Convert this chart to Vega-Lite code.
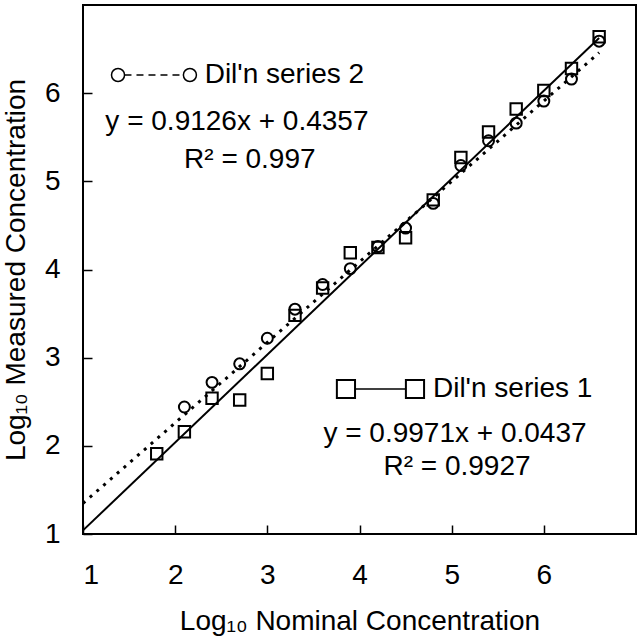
{
  "$schema": "https://vega.github.io/schema/vega-lite/v6.json",
  "autosize": "none",
  "width": 553,
  "height": 529,
  "padding": {"left": 83, "top": 5, "right": 4, "bottom": 104},
  "background": "white",
  "config": {
    "font": "Liberation Sans",
    "view": {"stroke": "black", "strokeWidth": 2},
    "axis": {
      "grid": false,
      "domain": false,
      "offset": -9,
      "tickColor": "black",
      "tickWidth": 1.5,
      "tickSize": 9,
      "labelFont": "Liberation Sans",
      "labelFontSize": 28,
      "labelColor": "black",
      "titleFont": "Liberation Sans",
      "titleFontSize": 28,
      "titleFontWeight": "normal",
      "titleColor": "black"
    }
  },
  "datasets": {
    "points": [
      {"series": "Dil'n series 1", "nominal": 1.8, "measured": 1.91},
      {"series": "Dil'n series 1", "nominal": 2.1, "measured": 2.16},
      {"series": "Dil'n series 1", "nominal": 2.4, "measured": 2.54},
      {"series": "Dil'n series 1", "nominal": 2.7, "measured": 2.52},
      {"series": "Dil'n series 1", "nominal": 3.0, "measured": 2.82},
      {"series": "Dil'n series 1", "nominal": 3.3, "measured": 3.48},
      {"series": "Dil'n series 1", "nominal": 3.6, "measured": 3.79},
      {"series": "Dil'n series 1", "nominal": 3.9, "measured": 4.19},
      {"series": "Dil'n series 1", "nominal": 4.2, "measured": 4.25},
      {"series": "Dil'n series 1", "nominal": 4.5, "measured": 4.36},
      {"series": "Dil'n series 1", "nominal": 4.8, "measured": 4.79},
      {"series": "Dil'n series 1", "nominal": 5.1, "measured": 5.27},
      {"series": "Dil'n series 1", "nominal": 5.4, "measured": 5.56},
      {"series": "Dil'n series 1", "nominal": 5.7, "measured": 5.82},
      {"series": "Dil'n series 1", "nominal": 6.0, "measured": 6.03},
      {"series": "Dil'n series 1", "nominal": 6.3, "measured": 6.28},
      {"series": "Dil'n series 1", "nominal": 6.6, "measured": 6.64},
      {"series": "Dil'n series 2", "nominal": 2.1, "measured": 2.44},
      {"series": "Dil'n series 2", "nominal": 2.4, "measured": 2.72},
      {"series": "Dil'n series 2", "nominal": 2.7, "measured": 2.93},
      {"series": "Dil'n series 2", "nominal": 3.0, "measured": 3.22},
      {"series": "Dil'n series 2", "nominal": 3.3, "measured": 3.55},
      {"series": "Dil'n series 2", "nominal": 3.6, "measured": 3.83},
      {"series": "Dil'n series 2", "nominal": 3.9, "measured": 4.01},
      {"series": "Dil'n series 2", "nominal": 4.2, "measured": 4.26},
      {"series": "Dil'n series 2", "nominal": 4.5, "measured": 4.47},
      {"series": "Dil'n series 2", "nominal": 4.8, "measured": 4.75},
      {"series": "Dil'n series 2", "nominal": 5.1, "measured": 5.18},
      {"series": "Dil'n series 2", "nominal": 5.4, "measured": 5.46},
      {"series": "Dil'n series 2", "nominal": 5.7, "measured": 5.66},
      {"series": "Dil'n series 2", "nominal": 6.0, "measured": 5.91},
      {"series": "Dil'n series 2", "nominal": 6.3, "measured": 6.16},
      {"series": "Dil'n series 2", "nominal": 6.6, "measured": 6.59}
    ],
    "fits": [
      {"series": "Dil'n series 1", "nominal": 1.0, "measured": 1.041},
      {"series": "Dil'n series 1", "nominal": 6.6, "measured": 6.625},
      {"series": "Dil'n series 2", "nominal": 1.0, "measured": 1.348},
      {"series": "Dil'n series 2", "nominal": 6.6, "measured": 6.459}
    ],
    "keySymbols": [
      {"series": "Dil'n series 1", "nominal": 3.853, "measured": 2.645},
      {"series": "Dil'n series 1", "nominal": 4.602, "measured": 2.645},
      {"series": "Dil'n series 2", "nominal": 1.38, "measured": 6.206},
      {"series": "Dil'n series 2", "nominal": 2.16, "measured": 6.206}
    ],
    "keyLines": [
      {"series": "Dil'n series 1", "nominal": 3.95, "measured": 2.645},
      {"series": "Dil'n series 1", "nominal": 4.505, "measured": 2.645},
      {"series": "Dil'n series 2", "nominal": 1.45, "measured": 6.206},
      {"series": "Dil'n series 2", "nominal": 2.09, "measured": 6.206}
    ],
    "keyTexts": [
      {"label": "Dil'n series 2", "nominal": 2.32, "measured": 6.206, "pos": "left"},
      {"label": "y = 0.9126x + 0.4357", "nominal": 2.67, "measured": 5.673, "pos": "center"},
      {"label": "R² = 0.997", "nominal": 2.81, "measured": 5.242, "pos": "center"},
      {"label": "Dil'n series 1", "nominal": 4.797, "measured": 2.645, "pos": "left"},
      {"label": "y = 0.9971x + 0.0437", "nominal": 5.036, "measured": 2.134, "pos": "center"},
      {"label": "R² = 0.9927", "nominal": 5.058, "measured": 1.76, "pos": "center"}
    ]
  },
  "encoding": {
    "x": {
      "field": "nominal", "type": "quantitative",
      "scale": {"domain": [1, 7], "nice": false, "zero": false},
      "axis": {"values": [1, 2, 3, 4, 5, 6], "title": "Log₁₀ Nominal Concentration", "labelPadding": 27, "titlePadding": 18}
    },
    "y": {
      "field": "measured", "type": "quantitative",
      "scale": {"domain": [1, 7], "nice": false, "zero": false},
      "axis": {"values": [1, 2, 3, 4, 5, 6], "title": "Log₁₀ Measured Concentration", "labelPadding": 23, "titleX": -62, "titleBaseline": "bottom"}
    }
  },
  "layer": [
    {
      "data": {"name": "fits"},
      "transform": [{"filter": "datum.series === \"Dil'n series 1\""}],
      "mark": {"type": "line", "color": "black", "strokeWidth": 2}
    },
    {
      "data": {"name": "fits"},
      "transform": [{"filter": "datum.series === \"Dil'n series 2\""}],
      "mark": {"type": "line", "color": "black", "strokeWidth": 3, "strokeDash": [3, 6]}
    },
    {
      "data": {"name": "keyLines"},
      "transform": [{"filter": "datum.series === \"Dil'n series 1\""}],
      "mark": {"type": "line", "color": "black", "strokeWidth": 1.5}
    },
    {
      "data": {"name": "keyLines"},
      "transform": [{"filter": "datum.series === \"Dil'n series 2\""}],
      "mark": {"type": "line", "color": "black", "strokeWidth": 1.5, "strokeDash": [7, 5]}
    },
    {
      "data": {"name": "points"},
      "transform": [{"filter": "datum.series === \"Dil'n series 1\""}],
      "mark": {"type": "point", "shape": "square", "filled": false, "color": "black", "strokeWidth": 2, "size": 130, "opacity": 1}
    },
    {
      "data": {"name": "points"},
      "transform": [{"filter": "datum.series === \"Dil'n series 2\""}],
      "mark": {"type": "point", "shape": "circle", "filled": false, "color": "black", "strokeWidth": 2, "size": 120, "opacity": 1}
    },
    {
      "data": {"name": "keySymbols"},
      "transform": [{"filter": "datum.series === \"Dil'n series 1\""}],
      "mark": {"type": "point", "shape": "square", "filled": true, "fill": "white", "stroke": "black", "strokeWidth": 2, "size": 330, "opacity": 1}
    },
    {
      "data": {"name": "keySymbols"},
      "transform": [{"filter": "datum.series === \"Dil'n series 2\""}],
      "mark": {"type": "point", "shape": "circle", "filled": true, "fill": "white", "stroke": "black", "strokeWidth": 1.5, "size": 170, "opacity": 1}
    },
    {
      "data": {"name": "keyTexts"},
      "transform": [{"filter": "datum.pos === 'left'"}],
      "mark": {"type": "text", "align": "left", "baseline": "middle", "fontSize": 28, "font": "Liberation Sans", "color": "black"},
      "encoding": {"text": {"field": "label"}}
    },
    {
      "data": {"name": "keyTexts"},
      "transform": [{"filter": "datum.pos === 'center'"}],
      "mark": {"type": "text", "align": "center", "baseline": "middle", "fontSize": 28, "font": "Liberation Sans", "color": "black"},
      "encoding": {"text": {"field": "label"}}
    }
  ]
}
